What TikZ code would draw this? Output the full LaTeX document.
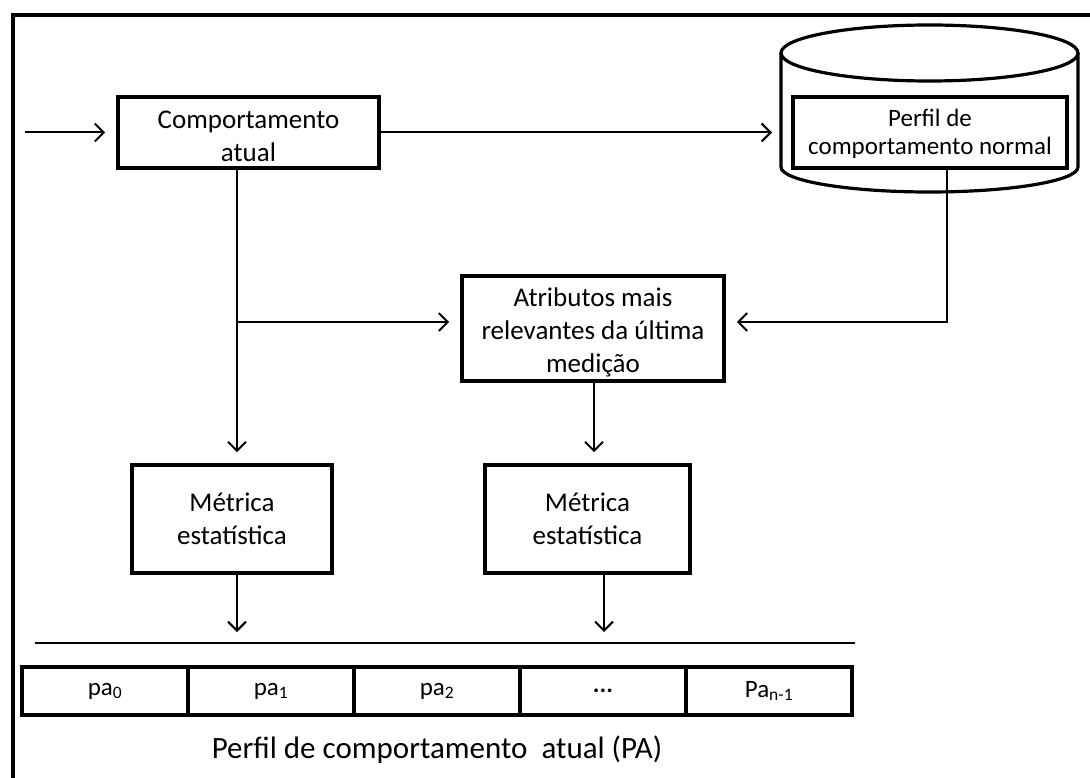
\documentclass[tikz,border=0pt]{standalone}
\usepackage{fontspec}
\setmainfont{Carlito}
\usetikzlibrary{arrows.meta,calc}
\begin{document}
\begin{tikzpicture}[x=1pt,y=-1pt,
  frame/.style={draw, line width=3.6pt},
  box/.style={frame, inner sep=0pt},
  txt/.style={align=center, inner sep=0pt, font=\fontsize{27}{33}\selectfont},
  conn/.style={line width=2pt, shorten >=11pt,
    -{Straight Barb[length=9pt,width=18pt,line width=2pt]}},
  plain/.style={line width=2pt},
  cell/.style={frame, minimum width=166pt, minimum height=48pt,
    inner sep=0pt, font=\fontsize{25}{28}\selectfont}]
\useasboundingbox (0,0) rectangle (1090,778);

% outer frame (top and left edges)
\draw[line width=3.6pt] (1100,15) -- (13,15) -- (13,800);

% database cylinder
\draw[line width=3.2pt] (929.5,53) ellipse [x radius=148.5pt, y radius=28pt];
\draw[line width=3.2pt] (781,53) -- (781,167)
  arc[start angle=180, end angle=360, x radius=148.5pt, y radius=25pt] -- (1078,53);
\coordinate (cyl) at (781,132.5);

% boxes
\node[box, minimum width=261pt, minimum height=71pt] (cur) at (248.5,132.5) {};
\node[txt] (curtxt) at ($(cur.center)+(0,3.5)$) {Comportamento\\atual};
\node[box, minimum width=274pt, minimum height=71pt] (norm) at (930,132.5) {};
\node[txt, font=\fontsize{25}{28}\selectfont] (normtxt) at ($(norm.center)+(0,1.5)$)
  {Perfil de\\comportamento normal};
\node[box, minimum width=262pt, minimum height=105pt] (attr) at (593,328.5) {};
\node[txt] (attrtxt) at ($(attr.center)+(0,4)$)
  {Atributos mais\\relevantes da última\\medição};
\node[box, minimum width=200pt, minimum height=108pt] (met1) at (232,519) {};
\node[txt] (met1txt) at (met1.center) {Métrica\\estatística};
\node[box, minimum width=205pt, minimum height=108pt] (met2) at (587.5,519) {};
\node[txt] (met2txt) at (met2.center) {Métrica\\estatística};

% helper coordinates
\coordinate (in) at (25,132.5);
\coordinate (j1) at (237,322);
\coordinate (j2) at (947,322);
\coordinate (x2) at (594,0);
\coordinate (x3) at (604,0);
\coordinate (barL) at (35,643);
\coordinate (barR) at (855,643);

% connectors
\draw[conn] (in) -- (cur.west);
\draw[conn, shorten >=9pt] (cur.east) -- (cyl);
\draw[conn] (cur.south -| j1) -- (met1.north -| j1);
\draw[conn] (j1) -- (j1 -| attr.west);
\draw[conn] (norm.south -| j2) -- (j2) -- (j2 -| attr.east);
\draw[conn] (attr.south -| x2) -- (met2.north -| x2);
\draw[conn] (met1.south -| j1) -- (barL -| j1);
\draw[conn] (met2.south -| x3) -- (barL -| x3);
\draw[plain] (barL) -- (barR);

% profile vector
\node[cell] (c0) at (105,691) {pa\textsubscript{0}};
\node[cell] (c1) at (271,691) {pa\textsubscript{1}};
\node[cell] (c2) at (437,691) {pa\textsubscript{2}};
\node[cell] (c3) at (603,691) {\textbf{...}};
\node[cell] (c4) at (769,691) {Pa\textsubscript{n-1}};

\node[font=\fontsize{31}{34}\selectfont] (cap) at (437,750)
  {Perfil de comportamento\ \ atual (PA)};
\end{tikzpicture}
\end{document}
